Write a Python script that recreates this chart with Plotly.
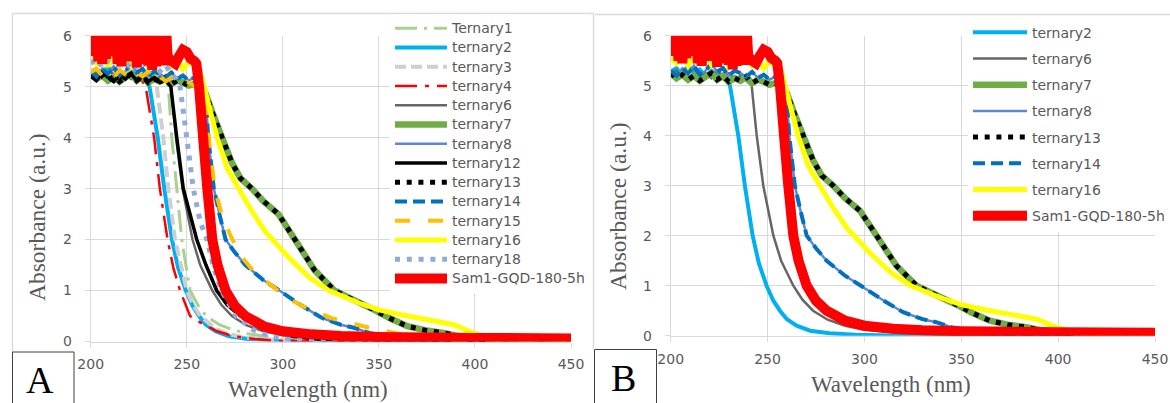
import plotly.graph_objects as go

# ---------------- data (wavelength nm, absorbance a.u.) ----------------
t1_wl = [200, 203, 206, 209, 212, 215, 218, 221, 224, 227, 230, 233, 236, 239, 240.4, 242.2, 244.8, 247.4, 251.7, 256, 260.4, 267, 274, 282, 291.7, 300, 310, 330, 360, 450]
t1_abs = [5.30, 5.22, 5.35, 5.25, 5.32, 5.18, 5.28, 5.35, 5.22, 5.30, 5.20, 5.28, 5.15, 5.20, 5.0, 4.0, 3.0, 2.0, 1.0, 0.7, 0.49, 0.33, 0.23, 0.15, 0.1, 0.06, 0.03, 0.01, 0.0, 0.0]

t2_wl = [200, 203, 206, 209, 212, 215, 218, 221, 224, 227, 229, 230.6, 234.9, 238.3, 242.3, 245.5, 249.5, 253, 256.4, 260, 265, 272, 282, 295, 320, 450]
t2_abs = [5.28, 5.35, 5.20, 5.40, 5.25, 5.32, 5.18, 5.30, 5.22, 5.15, 5.1, 5.0, 4.0, 3.0, 2.0, 1.45, 1.0, 0.7, 0.5, 0.33, 0.2, 0.1, 0.05, 0.02, 0.0, 0.0]

t3_wl = [200, 203, 206, 209, 212, 215, 218, 221, 224, 227, 230, 233, 234.4, 237.8, 240.4, 243.9, 250, 253.5, 257, 265, 272, 280, 300, 450]
t3_abs = [5.35, 5.25, 5.38, 5.22, 5.30, 5.40, 5.25, 5.33, 5.20, 5.30, 5.18, 5.12, 5.0, 4.0, 3.0, 2.0, 1.0, 0.7, 0.5, 0.25, 0.14, 0.08, 0.02, 0.0]

t4_wl = [200, 203, 206, 209, 212, 215, 218, 221, 224, 227, 228.6, 233, 236, 240, 243, 246.5, 251.7, 257.2, 265.9, 274.6, 285, 300, 450]
t4_abs = [5.25, 5.32, 5.20, 5.35, 5.22, 5.30, 5.15, 5.28, 5.20, 5.10, 5.0, 4.0, 3.0, 2.0, 1.45, 1.0, 0.5, 0.37, 0.2, 0.1, 0.05, 0.01, 0.0]

t6_wl = [200, 203, 206, 209, 212, 215, 218, 221, 224, 227, 230, 233, 236, 239, 241.8, 244.4, 247.8, 253, 257, 263.3, 268, 273.5, 281, 290, 300, 320, 350, 450]
t6_abs = [5.22, 5.30, 5.18, 5.28, 5.35, 5.20, 5.25, 5.15, 5.30, 5.20, 5.25, 5.12, 5.20, 5.10, 5.0, 4.0, 3.0, 2.0, 1.5, 1.0, 0.72, 0.5, 0.32, 0.2, 0.12, 0.05, 0.02, 0.0]

t7_wl = [200, 203, 206, 209, 212, 215, 218, 221, 224, 227, 230, 233, 236, 239, 242, 245, 248, 251, 254, 257, 260, 263.3, 268.4, 273.6, 278, 283.9, 290, 297.7, 306.3, 316.5, 326.9, 335, 347.6, 356, 364.8, 374, 383.7, 395.7, 404, 412, 450]
t7_abs = [5.25, 5.15, 5.22, 5.12, 5.20, 5.10, 5.18, 5.25, 5.12, 5.20, 5.08, 5.15, 5.10, 5.18, 5.05, 5.12, 5.08, 5.02, 5.05, 4.98, 4.85, 4.5, 4.0, 3.5, 3.2, 3.0, 2.75, 2.5, 2.0, 1.4, 1.0, 0.85, 0.62, 0.45, 0.3, 0.22, 0.17, 0.07, 0.03, 0.01, 0.0]

t12_wl = [200, 203, 206, 209, 212, 215, 218, 221, 224, 227, 230, 233, 236, 239, 241.7, 244.8, 248.2, 255.2, 260, 265.6, 271, 278, 285, 291.7, 305, 320, 450]
t12_abs = [5.20, 5.12, 5.28, 5.18, 5.10, 5.22, 5.15, 5.25, 5.12, 5.20, 5.10, 5.18, 5.08, 5.12, 5.0, 4.0, 3.0, 2.0, 1.5, 1.0, 0.72, 0.5, 0.35, 0.25, 0.1, 0.04, 0.01]

t14_wl = [200, 203, 206, 209, 212, 215, 218, 221, 224, 227, 230, 233, 236, 239, 242, 245, 248, 251, 254, 257, 259.5, 261.2, 264.1, 267, 270.2, 275, 280.5, 290, 299.4, 310, 320, 330, 337, 345, 354, 365, 380, 450]
t14_abs = [5.30, 5.20, 5.35, 5.25, 5.40, 5.22, 5.30, 5.45, 5.28, 5.35, 5.20, 5.30, 5.25, 5.18, 5.28, 5.15, 5.22, 5.12, 5.18, 5.10, 5.0, 4.0, 3.0, 2.5, 2.0, 1.75, 1.5, 1.2, 0.97, 0.7, 0.47, 0.33, 0.27, 0.17, 0.1, 0.04, 0.01, 0.0]

t15_wl = [200, 203, 206, 209, 212, 215, 218, 221, 224, 227, 230, 233, 236, 239, 242, 245, 248, 251, 254, 257, 259.5, 261.5, 264.5, 268.2, 272.6, 277.8, 284.7, 293.4, 302, 310, 326, 344, 358, 370, 385, 450]
t15_abs = [5.28, 5.35, 5.22, 5.30, 5.18, 5.32, 5.25, 5.15, 5.28, 5.20, 5.30, 5.12, 5.22, 5.10, 5.18, 5.05, 5.12, 5.08, 5.02, 5.05, 5.0, 4.0, 3.0, 2.5, 2.09, 1.7, 1.38, 1.12, 0.86, 0.7, 0.45, 0.28, 0.17, 0.08, 0.02, 0.0]

t16_wl = [200, 203, 206, 209, 212, 215, 218, 221, 224, 227, 230, 233, 236, 239, 242, 245, 248, 251, 254, 257, 262.4, 265.8, 271, 277, 284, 291, 297, 303, 314, 324, 340, 350, 361, 372, 389, 399, 409, 420, 450]
t16_abs = [5.55, 5.45, 5.62, 5.40, 5.58, 5.48, 5.65, 5.42, 5.55, 5.60, 5.38, 5.52, 5.45, 5.62, 5.40, 5.55, 5.35, 5.50, 5.40, 5.30, 4.5, 4.0, 3.4, 3.0, 2.55, 2.15, 1.9, 1.65, 1.25, 1.0, 0.75, 0.62, 0.53, 0.45, 0.33, 0.17, 0.05, 0.01, 0.0]

t18_wl = [200, 203, 206, 209, 212, 215, 218, 221, 224, 227, 230, 233, 236, 239, 242, 244.5, 246.5, 250, 253.4, 257, 260.5, 264, 268, 275.6, 284.5, 292, 300, 315, 450]
t18_abs = [5.45, 5.55, 5.38, 5.50, 5.42, 5.58, 5.35, 5.48, 5.40, 5.52, 5.35, 5.45, 5.30, 5.42, 5.25, 5.15, 5.0, 4.0, 3.0, 2.35, 2.0, 1.45, 1.0, 0.5, 0.23, 0.12, 0.07, 0.02, 0.0]

sam_wl = [200, 201, 202, 203, 204, 205, 206, 207, 208, 209, 210, 211, 212, 213, 214, 215, 216, 217, 218, 219,
          220, 221, 222, 223, 224, 225, 226, 227, 228, 229, 230, 231, 232, 233, 234, 235, 236, 237, 238, 239, 240,
          242, 244, 246, 248, 250, 252, 254, 255,
          256.4, 258.5, 260.7, 263.3, 266, 270.2, 275, 280.5, 290, 300, 315, 330, 350, 400, 450]
sam_abs = [5.72, 6.3, 5.6, 6.3, 5.5, 6.3, 5.45, 6.3, 5.55, 6.3, 5.68, 6.3, 5.6, 6.3, 5.45, 6.3, 5.4, 6.3, 5.5, 6.3,
           5.62, 6.3, 5.5, 6.3, 5.38, 6.3, 5.45, 6.3, 5.55, 6.3, 5.42, 6.3, 5.33, 6.3, 5.4, 6.3, 5.5, 6.3, 5.42, 6.3, 5.6,
           5.5, 5.45, 5.6, 5.72, 5.68, 5.55, 5.5, 5.45,
           5.0, 4.0, 3.0, 2.0, 1.5, 1.0, 0.7, 0.5, 0.3, 0.2, 0.14, 0.11, 0.09, 0.07, 0.06]

x_ticks = [200, 250, 300, 350, 400, 450]
y_ticks = [0, 1, 2, 3, 4, 5, 6]

# ---------------- styling ----------------
W, H = 1170, 403
def fx(x):
    return x / W
def fy(y):
    return 1 - y / H

GRID = '#D9D9D9'
TXT = '#595959'
SANS = 'DejaVu Sans'
TICKFONT = dict(family=SANS, size=14, color=TXT)
TITLEFONT = dict(family='Liberation Serif', size=23.5, color=TXT)

# name, wl, abs, color, width, dash
series_left = [
    ('Ternary1', t1_wl, t1_abs, '#A9D18E', 3, '22px,7px,3px,7px'),
    ('ternary2', t2_wl, t2_abs, '#00B0F0', 4, 'solid'),
    ('ternary3', t3_wl, t3_abs, '#D0CECE', 4, '11px,5px'),
    ('ternary4', t4_wl, t4_abs, '#FF0000', 2.5, '22px,8px,4px,8px'),
    ('ternary6', t6_wl, t6_abs, '#666666', 2.5, 'solid'),
    ('ternary7', t7_wl, t7_abs, '#70AD47', 6.5, 'solid'),
    ('ternary8', t14_wl, t14_abs, '#5B87D4', 2.5, 'solid'),
    ('ternary12', t12_wl, t12_abs, '#000000', 3.5, 'solid'),
    ('ternary13', t7_wl, t7_abs, '#000000', 5, '5px,6.7px'),
    ('ternary14', t14_wl, t14_abs, '#0070C0', 4, '12px,6px'),
    ('ternary15', t15_wl, t15_abs, '#FFC000', 4, '15px,18px'),
    ('ternary16', t16_wl, t16_abs, '#FFFF00', 5, 'solid'),
    ('ternary18', t18_wl, t18_abs, '#8FAADC', 5, '5px,6.8px'),
    ('Sam1-GQD-180-5h', sam_wl, sam_abs, '#FF0000', 10, 'solid'),
]
right_names = ['ternary2', 'ternary6', 'ternary7', 'ternary8', 'ternary13', 'ternary14', 'ternary16', 'Sam1-GQD-180-5h']

fig = go.Figure()
for name, wl, ab, col, w, dash in series_left:
    fig.add_trace(go.Scatter(
        x=wl, y=ab, mode='lines', xaxis='x', yaxis='y', legend='legend',
        name='<span style="font-size:14px">' + name + '</span>',
        line=dict(color=col, width=w, dash=dash, simplify=False), hoverinfo='skip'))
for name, wl, ab, col, w, dash in series_left:
    if name in right_names:
        fig.add_trace(go.Scatter(
            x=wl, y=ab, mode='lines', xaxis='x2', yaxis='y2', legend='legend2',
            legendgroup='R_' + name, name=name,
            line=dict(color=col, width=w, dash=dash, simplify=False), hoverinfo='skip'))

def xax(dom, anchor):
    return dict(domain=dom, anchor=anchor, range=[200, 450], tickvals=x_ticks,
                showgrid=True, gridcolor=GRID, gridwidth=1, showline=True, linecolor=GRID,
                linewidth=1, ticks='outside', ticklen=5, tickcolor=GRID, zeroline=False,
                tickfont=TICKFONT, ticklabelstandoff=5, fixedrange=True, automargin=False)
def yax(dom, anchor):
    return dict(domain=dom, anchor=anchor, range=[0, 6], tickvals=y_ticks,
                showgrid=True, gridcolor=GRID, gridwidth=1, showline=True, linecolor=GRID,
                linewidth=1, ticks='outside', ticklen=5, tickcolor=GRID, zeroline=False,
                tickfont=TICKFONT, ticklabelstandoff=10, fixedrange=True, automargin=False)

shapes = [
    dict(type='line', xref='paper', yref='paper', x0=fx(12.5), y0=fy(13.5), x1=fx(593.5), y1=fy(13.5), line=dict(color=GRID, width=1.3)),
    dict(type='line', xref='paper', yref='paper', x0=fx(12.5), y0=fy(13.5), x1=fx(12.5), y1=fy(352), line=dict(color=GRID, width=1.3)),
    dict(type='line', xref='paper', yref='paper', x0=fx(593.5), y0=fy(13.5), x1=fx(593.5), y1=fy(349.5), line=dict(color=GRID, width=1.3)),
    dict(type='line', xref='paper', yref='paper', x0=fx(595), y0=fy(14.5), x1=fx(1170), y1=fy(14.5), line=dict(color=GRID, width=1.3)),
    dict(type='rect', xref='paper', yref='paper', x0=fx(12.5), y0=fy(352), x1=fx(74), y1=fy(410), fillcolor='white', line=dict(color='#404040', width=1)),
    dict(type='rect', xref='paper', yref='paper', x0=fx(594.5), y0=fy(349.5), x1=fx(656.5), y1=fy(410), fillcolor='white', line=dict(color='#404040', width=1)),
]

annotations = [
    dict(text='Absorbance (a.u.)', x=fx(37), y=fy(217), textangle=-90, font=TITLEFONT),
    dict(text='Absorbance (a.u.)', x=fx(618), y=fy(206), textangle=-90, font=TITLEFONT),
    dict(text='Wavelength (nm)', x=fx(308), y=fy(389), font=dict(family='Liberation Serif', size=23, color=TXT)),
    dict(text='Wavelength (nm)', x=fx(891), y=fy(384), font=dict(family='Liberation Serif', size=23, color=TXT)),
    dict(text='A', x=fx(40), y=fy(380), font=dict(family='Liberation Serif', size=38, color='#000000')),
    dict(text='B', x=fx(623), y=fy(378), font=dict(family='Liberation Serif', size=38, color='#000000')),
]
for a in annotations:
    a.update(xref='paper', yref='paper', showarrow=False, xanchor='center', yanchor='middle')

fig.update_layout(
    width=W, height=H, margin=dict(l=0, r=0, t=0, b=0, pad=0, autoexpand=False),
    paper_bgcolor='white', plot_bgcolor='white',
    xaxis=xax([fx(90.7), fx(571)], 'y'),
    yaxis=yax([fy(341.5), fy(35.7)], 'x'),
    xaxis2=xax([fx(670.7), fx(1155)], 'y2'),
    yaxis2=yax([fy(335.7), fy(35.7)], 'x2'),
    legend=dict(x=fx(390), y=fy(13.7), xref='paper', yref='paper', xanchor='left', yanchor='top',
                bgcolor='white', borderwidth=0, itemwidth=52, traceorder='normal',
                font=dict(family=SANS, size=12.5, color=TXT)),
    legend2=dict(x=fx(968), y=fy(16.7), xref='paper', yref='paper', xanchor='left', yanchor='top',
                 bgcolor='white', borderwidth=0, itemwidth=54, tracegroupgap=5, traceorder='grouped',
                 font=dict(family=SANS, size=14, color=TXT)),
    shapes=shapes, annotations=annotations, showlegend=True,
)

fig.write_html('out.html', config={'displayModeBar': False, 'staticPlot': True})
